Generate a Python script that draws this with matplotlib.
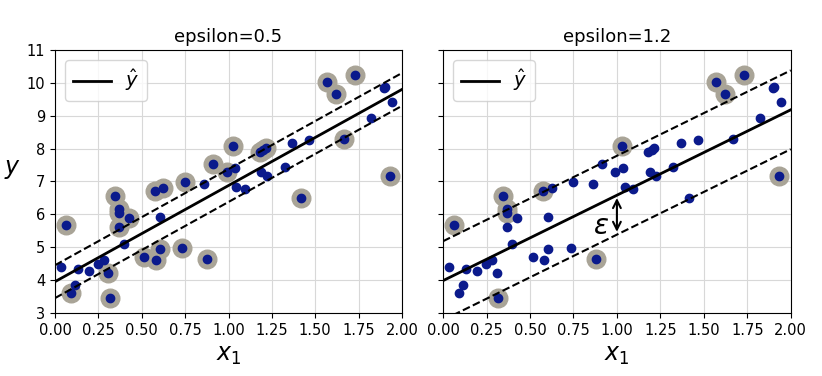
import numpy as np
import matplotlib
matplotlib.use("Agg")
import matplotlib.pyplot as plt

# data points
x_vals = [0.036, 0.063, 0.092, 0.113, 0.130, 0.197, 0.247, 0.280, 0.308, 0.318,
          0.343, 0.366, 0.366, 0.370, 0.398, 0.427, 0.515, 0.577, 0.582, 0.605,
          0.605, 0.625, 0.734, 0.749, 0.860, 0.877, 0.912, 0.989, 1.027, 1.036,
          1.046, 1.094, 1.180, 1.190, 1.199, 1.215, 1.224, 1.324, 1.368, 1.416,
          1.464, 1.569, 1.621, 1.665, 1.732, 1.822, 1.898, 1.902, 1.931, 1.941]
y_vals = [4.41, 5.68, 3.60, 3.85, 4.33, 4.28, 4.48, 4.61, 4.21, 3.45,
          6.57, 6.15, 6.03, 5.60, 5.10, 5.88, 4.71, 6.71, 4.61, 4.95,
          5.91, 6.79, 4.97, 6.97, 6.92, 4.64, 7.52, 7.30, 8.08, 7.42,
          6.84, 6.76, 7.89, 7.28, 7.96, 8.01, 7.18, 7.45, 8.18, 6.49,
          8.26, 10.04, 9.66, 8.29, 10.24, 8.94, 9.84, 9.86, 7.17, 9.43]

# support vectors (haloed points) for each panel
sv_left = [1, 2, 8, 9, 10, 11, 12, 13, 15, 16, 17, 18, 19, 21, 22, 23, 25, 26,
           27, 28, 32, 34, 35, 39, 41, 42, 43, 44, 48]
sv_right = [1, 9, 10, 11, 12, 17, 25, 28, 41, 42, 44, 48]

epsilons = [0.5, 1.2]
intercepts = [3.95, 3.98]
slopes = [2.925, 2.60]
sv_lists = [sv_left, sv_right]

X = np.array(x_vals)
Y = np.array(y_vals)

fig = plt.figure(figsize=(8.22, 3.76), dpi=100)
ax1 = fig.add_axes([0.067, 0.168, 0.422, 0.699])
ax2 = fig.add_axes([0.539, 0.168, 0.423, 0.699], sharey=ax1)

xs = np.linspace(0, 2, 100)
for ax, eps, b, a, sv in zip([ax1, ax2], epsilons, intercepts, slopes, sv_lists):
    pred = b + a * xs
    ax.scatter(X[sv], Y[sv], s=180, facecolors="#a9a497", zorder=2)
    ax.plot(X, Y, "o", color="#0b1a8c", markersize=6, zorder=3)
    ax.plot(xs, pred, "k-", linewidth=2, label=r"$\hat{y}$", zorder=4)
    ax.plot(xs, pred + eps, "k--", zorder=4)
    ax.plot(xs, pred - eps, "k--", zorder=4)
    ax.set_xlim(0, 2)
    ax.set_ylim(3, 11)
    ax.set_xticks(np.arange(0, 2.01, 0.25))
    ax.set_xticklabels(["%.2f" % t for t in np.arange(0, 2.01, 0.25)])
    ax.grid(True, color="#d8d8d8", linewidth=0.8)
    ax.set_axisbelow(True)
    ax.set_title("epsilon=%s" % eps, fontsize=13)
    ax.set_xlabel("$x_1$", fontsize=17)
    ax.legend(loc="upper left", fontsize=14, handlelength=2.0, handletextpad=0.7)
    ax.tick_params(labelsize=10.5)

ax1.set_ylabel("$y$", fontsize=17, rotation=0, labelpad=10)
plt.setp(ax2.get_yticklabels(), visible=False)

# epsilon arrow on the right panel
xa = 1.0
ya = intercepts[1] + slopes[1] * xa
ax2.annotate("", xy=(xa, ya), xytext=(xa, ya - epsilons[1]),
             arrowprops=dict(arrowstyle="<->", linewidth=1.5, mutation_scale=14), zorder=5)
ax2.text(0.91, ya - 0.95, r"$\varepsilon$", fontsize=20, ha="center", va="center")

fig.savefig("out.png", dpi=100)
